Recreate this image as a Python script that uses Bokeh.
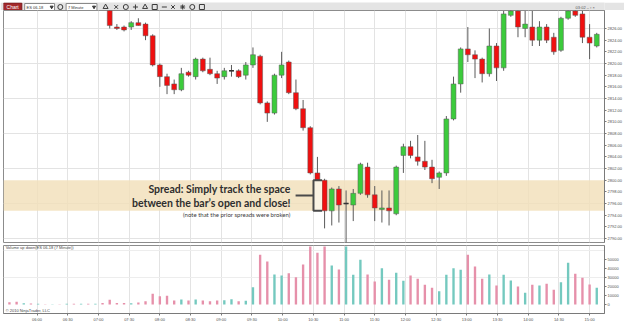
import pandas as pd
from bokeh.plotting import figure
from bokeh.layouts import column
from bokeh.models import (Range1d, FixedTicker, Grid, DatetimeTickFormatter, Label,
                          ColumnDataSource, BoxAnnotation)
from bokeh.embed import file_html
from bokeh.resources import INLINE

# ---------------- data ----------------
instrument = "ES 06-18"
period = "7 Minute"
bar_times = pd.date_range("2018-03-08 05:33", periods=83, freq="7min")
first_candle = 14          # earlier bars trade above the visible price range
spread_bar = 44            # bar whose open/close spread is highlighted

opens = [
    2829.50, 2826.25, 2826.25, 2826.25, 2827.00, 2826.75, 2824.75, 2819.75, 2817.75, 2816.50,
    2815.50, 2818.50, 2817.75, 2820.75, 2819.00, 2818.25, 2817.75, 2818.75, 2818.75, 2818.00,
    2819.75, 2821.25, 2813.25, 2811.50, 2818.00, 2820.25, 2815.00, 2812.25, 2809.00, 2801.25,
    2800.00, 2794.75, 2798.50, 2796.00, 2795.75, 2797.75, 2802.25, 2797.50, 2795.00, 2795.25,
    2794.25, 2804.25, 2805.75, 2804.00, 2803.25, 2802.25, 2800.50, 2801.25, 2810.50, 2816.50,
    2822.50, 2821.50, 2820.75, 2818.25, 2823.00, 2819.25, 2828.25, 2829.00, 2826.00, 2826.25,
    2824.00, 2826.25, 2824.50, 2822.25, 2827.75, 2829.00, 2828.50, 2824.50, 2823.00]
highs = [
    2830.00, 2826.75, 2826.50, 2827.25, 2827.75, 2827.00, 2825.00, 2820.00, 2818.25, 2817.25,
    2819.25, 2818.75, 2821.00, 2821.00, 2821.00, 2818.75, 2819.25, 2819.75, 2819.00, 2820.25,
    2822.75, 2821.50, 2813.50, 2818.25, 2822.00, 2820.50, 2817.25, 2813.75, 2809.25, 2804.00,
    2800.25, 2798.75, 2799.00, 2798.25, 2798.50, 2803.00, 2803.00, 2799.00, 2798.25, 2798.25,
    2802.50, 2806.25, 2806.75, 2807.75, 2806.75, 2803.50, 2801.50, 2811.00, 2817.75, 2822.75,
    2826.25, 2822.25, 2821.00, 2826.00, 2823.50, 2829.00, 2829.25, 2829.25, 2829.00, 2829.00,
    2827.25, 2826.75, 2825.25, 2828.00, 2829.25, 2829.50, 2829.00, 2826.75, 2825.25]
lows = [
    2826.00, 2825.75, 2825.50, 2825.75, 2826.50, 2824.00, 2819.50, 2816.00, 2814.75, 2814.75,
    2815.25, 2817.75, 2817.25, 2818.50, 2818.00, 2816.50, 2817.25, 2817.75, 2817.50, 2817.25,
    2819.25, 2813.00, 2810.00, 2811.25, 2817.50, 2814.75, 2812.00, 2808.50, 2801.00, 2799.75,
    2791.75, 2792.25, 2792.75, 2788.75, 2793.00, 2797.50, 2797.00, 2793.00, 2792.75, 2792.25,
    2794.00, 2801.25, 2803.75, 2802.50, 2801.75, 2799.50, 2798.50, 2800.75, 2810.25, 2815.00,
    2820.25, 2817.50, 2816.75, 2817.75, 2817.00, 2818.75, 2828.00, 2824.50, 2824.50, 2823.00,
    2823.00, 2823.50, 2821.50, 2822.00, 2827.50, 2828.00, 2823.50, 2820.75, 2822.75]
closes = [
    2826.50, 2826.00, 2825.75, 2827.00, 2826.50, 2824.75, 2819.75, 2817.75, 2816.25, 2815.50,
    2818.25, 2818.00, 2820.75, 2818.75, 2818.25, 2817.50, 2818.75, 2818.75, 2817.75, 2819.75,
    2821.50, 2813.25, 2811.50, 2818.00, 2819.75, 2815.00, 2812.25, 2809.00, 2801.25, 2800.00,
    2794.75, 2798.50, 2795.75, 2796.00, 2797.75, 2802.75, 2797.50, 2795.25, 2795.25, 2794.75,
    2802.25, 2805.75, 2804.25, 2803.25, 2802.25, 2800.25, 2801.25, 2810.50, 2816.50, 2822.50,
    2821.50, 2820.75, 2818.25, 2823.00, 2819.25, 2828.50, 2829.00, 2826.25, 2826.75, 2824.00,
    2826.25, 2824.00, 2822.00, 2827.75, 2829.00, 2828.25, 2824.50, 2823.50, 2825.00]
volumes = [
    2600, 3000, 1400, 1100, 800, 300, 300, 300, 700, 800, 700, 700, 700, 1700,
    5200, 1700, 1600, 1300, 2200, 3700, 11900, 9200, 9700, 4400,
    5600, 4400, 5600, 4400, 3700, 4400, 4800, 5900, 3700, 4100,
    19200, 55200, 47800, 33300, 32200, 34800, 30300, 44400, 64400, 57400,
    64400, 43300, 38900, 64400, 33000, 49700, 33300, 25600, 40300, 27400,
    35200, 26300, 32200, 28600, 21900, 18600, 14800, 33000, 40300, 38600,
    55200, 42200, 28600, 33300, 21100, 33000, 26700, 20000, 13000, 21900,
    21100, 23000, 16300, 24800, 46300, 34100, 29700, 22200, 18600]
early_up = [False, False, True, False, True, False, True, False, True, False, True, False, True, False]

price_ticks = list(range(2790, 2828, 2))
price_grid = list(range(2790, 2828, 6))
volume_ticks = [0, 10000, 20000, 30000, 40000, 50000]
volume_grid = [30000, 60000]
time_ticks = pd.date_range("2018-03-08 06:00", "2018-03-08 15:00", freq="30min")

# ---------------- styling ----------------
UP, DOWN = "#3CCB3C", "#F01010"
VUP, VDOWN = "#74C9BF", "#E690AA"
GRID = "#E3E3E3"
BAR = 420000.0            # ms per bar
BODY = 0.68 * BAR
VOLW = 0.33 * BAR

def ms(t):
    return pd.Timestamp(t).value / 1e6

t_ms = [ms(t) for t in bar_times]
tick_ms = [ms(t) for t in time_ticks]
x0 = t_ms[0] - 0.83 * BAR
x1 = t_ms[-1] + 1.08 * BAR

cand_t = t_ms[first_candle:]
up = [c >= o for o, c in zip(opens, closes)]
body_src = ColumnDataSource(dict(
    x=cand_t, top=[max(o, c) for o, c in zip(opens, closes)],
    bottom=[min(o, c) for o, c in zip(opens, closes)],
    high=highs, low=lows,
    color=[UP if u else DOWN for u in up]))
doji = [(t, o) for t, o, c in zip(cand_t, opens, closes) if o == c]

vol_up = early_up + up
vol_src = ColumnDataSource(dict(x=t_ms, top=volumes, color=[VUP if u else VDOWN for u in vol_up]))


def style_axis(ax):
    ax.axis_line_color = "#7A7A7A"
    ax.major_tick_line_color = "#7A7A7A"
    ax.major_tick_out = 2
    ax.major_tick_in = 0
    ax.minor_tick_line_color = None
    ax.major_label_text_font_size = "4px"
    ax.major_label_text_color = "#505050"
    ax.major_label_standoff = 1


# ---------------- toolbar strip ----------------
tb = figure(width=624, height=10, x_range=Range1d(0, 624), y_range=Range1d(10, 0),
            x_axis_location=None, y_axis_location=None, output_backend="svg",
            toolbar_location=None, min_border=0, background_fill_color="#E4E4E4",
            border_fill_color="#E4E4E4", outline_line_color=None)
tb.grid.visible = False
tb.quad(left=[0], right=[19], top=[0.5], bottom=[8.5], fill_color="#A3282B", line_color="#7A1A1C")
tb.add_layout(Label(x=9.5, y=4.6, text="Chart", text_color="white", text_font_size="5px",
                    text_align="center", text_baseline="middle"))
tb.quad(left=[22, 65], right=[53, 97], top=[1, 1], bottom=[8, 8], fill_color="white", line_color="#8A8A8A")
tb.add_layout(Label(x=24, y=4.6, text=instrument, text_font_size="4px", text_baseline="middle", text_color="#333"))
tb.add_layout(Label(x=67, y=4.6, text=period, text_font_size="4px", text_baseline="middle", text_color="#333"))
tb.scatter(x=[50, 94], y=[4.5, 4.5], marker="inverted_triangle", size=3, color="#333")
tb.scatter(x=[59, 106, 117, 127, 137, 147, 157, 167, 176, 186, 196, 206],
           y=[4.5] * 12,
           marker=["circle", "triangle", "x", "circle", "cross", "triangle", "square", "dash",
                   "x", "asterisk", "circle", "square"],
           size=5, line_color="#3A3A3A", fill_color=None, line_width=1)
tb.add_layout(Label(x=594, y=4.6, text="03:02  –  ▫  ×", text_font_size="4px",
                    text_baseline="middle", text_color="#555"))
tb.segment(x0=[0], y0=[9.6], x1=[624], y1=[9.6], line_color="#A0A0A0", line_width=1)

# ---------------- price panel ----------------
p = figure(width=624, height=233, x_range=Range1d(x0, x1), y_range=Range1d(2789.33, 2829.08),
           x_axis_location=None, y_axis_location="right", output_backend="svg",
           toolbar_location=None, min_border_left=3, min_border_right=16,
           min_border_top=0, min_border_bottom=1, outline_line_color="#8C8C8C",
           border_fill_color="white", background_fill_color="white")
p.grid.visible = False
p.add_layout(Grid(dimension=0, ticker=FixedTicker(ticks=tick_ms), grid_line_color=GRID))
p.add_layout(Grid(dimension=1, ticker=FixedTicker(ticks=price_grid), grid_line_color=GRID))
p.yaxis.ticker = FixedTicker(ticks=price_ticks)
p.yaxis.major_label_overrides = {v: f"{v:.2f}" for v in price_ticks}
style_axis(p.yaxis[0])

# spread band: the open/close range of the highlighted bar
k = spread_bar - first_candle
band_top, band_bot = opens[k], closes[k]
p.add_layout(BoxAnnotation(top=band_top, bottom=band_bot, fill_color="#F2DFBA",
                           fill_alpha=0.82, line_color=None, level="underlay"))

p.segment(x0="x", y0="high", x1="x", y1="low", source=body_src, line_color="#5A5A5A", line_width=1)
p.vbar(x="x", width=BODY, top="top", bottom="bottom", source=body_src,
       fill_color="color", line_color="#5A5A5A", line_width=0.5)
if doji:
    p.segment(x0=[t - BODY / 2 for t, _ in doji], y0=[o for _, o in doji],
              x1=[t + BODY / 2 for t, _ in doji], y1=[o for _, o in doji],
              line_color="#333333", line_width=1.5)

# bracket + annotation
sx = t_ms[spread_bar]
mid = (band_top + band_bot) / 2
bl, br = sx - 1.55 * BAR, sx - 0.36 * BAR
p.quad(left=[bl], right=[br], top=[band_top], bottom=[band_bot], fill_color="#FBF3E3", line_color=None)
p.multi_line(xs=[[br, bl, bl, br], [sx - 4.05 * BAR, bl]],
             ys=[[band_top, band_top, band_bot, band_bot], [mid, mid]],
             line_color="#4A4A4A", line_width=2)
tx = sx - 4.75 * BAR
p.add_layout(Label(x=tx, y=mid + 1.05, text="Spread: Simply track the space", text_align="right",
                   text_baseline="middle", text_font="Lato", text_font_style="bold",
                   text_font_size="10.5px", text_color="#2E2E2E"))
p.add_layout(Label(x=tx, y=mid - 1.2, text="between the bar\u2019s open and close!", text_align="right",
                   text_baseline="middle", text_font="Lato", text_font_style="bold",
                   text_font_size="10.5px", text_color="#2E2E2E"))
p.add_layout(Label(x=tx, y=mid - 3.2, text="(note that the prior spreads were broken)", text_align="right",
                   text_baseline="middle", text_font="Lato", text_font_size="6px", text_color="#3A3A3A"))
p.add_layout(Label(x=x1 + 0.1 * BAR, y=closes[-1], text=f"{closes[-1]:.2f}", text_baseline="middle",
                   text_font_size="4px", text_color="#333", background_fill_color="white",
                   border_line_color="#777"))

# ---------------- volume panel ----------------
v = figure(width=624, height=81, x_range=p.x_range, y_range=Range1d(-10000, 65556),
           x_axis_type="datetime", x_axis_location="below", y_axis_location="right",
           output_backend="svg", toolbar_location=None, min_border_left=3, min_border_right=16,
           min_border_top=2, min_border_bottom=11, outline_line_color="#8C8C8C",
           border_fill_color="white", background_fill_color="white")
v.grid.visible = False
v.add_layout(Grid(dimension=0, ticker=FixedTicker(ticks=tick_ms), grid_line_color=GRID))
v.add_layout(Grid(dimension=1, ticker=FixedTicker(ticks=volume_grid), grid_line_color="#EDEDED"))
v.xaxis.ticker = FixedTicker(ticks=tick_ms)
v.xaxis.formatter = DatetimeTickFormatter(minutes="%H:%M", hourmin="%H:%M", hours="%H:%M")
v.yaxis.ticker = FixedTicker(ticks=volume_ticks)
style_axis(v.xaxis[0])
style_axis(v.yaxis[0])
v.vbar(x="x", width=VOLW, top="top", bottom=0, source=vol_src, fill_color="color", line_color=None)
v.add_layout(Label(x=x0 + 0.3 * BAR, y=63300, text=f"Volume up down({instrument} ({period}))",
                   text_baseline="middle", text_font_size="4px", text_color="#444"))
v.add_layout(Label(x=x0 + 0.3 * BAR, y=-6200, text="\u00a9 2010 NinjaTrader, LLC",
                   text_baseline="middle", text_font_size="4px", text_color="#444"))
v.add_layout(Label(x=x1 + 0.1 * BAR, y=volumes[-1], text=f"{volumes[-1]}", text_baseline="middle",
                   text_font_size="4px", text_color="#333", background_fill_color="white",
                   border_line_color="#777"))

layout = column(tb, p, v, spacing=0)
open("out.html", "w").write(file_html(layout, INLINE))
